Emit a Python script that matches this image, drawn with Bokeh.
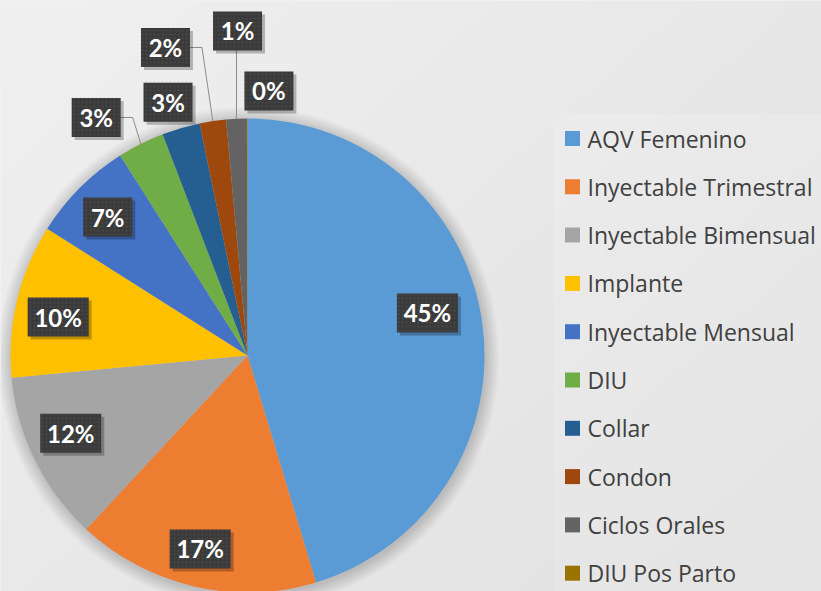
import numpy as np
from bokeh.plotting import figure
from bokeh.models import ColumnDataSource
from bokeh.core.properties import value
from bokeh.embed import file_html
from bokeh.resources import INLINE

# ---- data ----
categories = ["AQV Femenino", "Inyectable Trimestral", "Inyectable Bimensual", "Implante",
              "Inyectable Mensual", "DIU", "Collar", "Condon", "Ciclos Orales", "DIU Pos Parto"]
values = [45.4, 16.6, 11.6, 10.5, 7.0, 3.2, 2.6, 1.8, 1.4, 0.04]
colors = ["#5B9BD5", "#ED7D31", "#A5A5A5", "#FFC000", "#4472C4",
          "#70AD47", "#255E91", "#9E480E", "#636363", "#997300"]

# ---- label layout (radius factor, angle offset in degrees) ----
label_r = [0.78, 0.84, 0.815, 0.815, 0.83, 1.19, 1.12, 1.345, 1.37, 1.12]
label_dang = [-4.9, 0.7, 2.5, -2.0, -0.2, -5.7, -1.1, -6.5, 0.9, 4.7]

W, H = 821, 591
CX, CY_S, R = 247, 355, 237  # centre in screen coords
CY = H - CY_S

vals = np.array(values, dtype=float)
frac = vals / vals.sum()
cum = np.concatenate([[0], np.cumsum(frac)]) * 360.0
th1, th2 = cum[:-1], cum[1:]
mid = (th1 + th2) / 2
pct = ["%d%%" % int(np.floor(f * 100 + 0.5)) for f in frac]

p = figure(width=W, height=H, x_range=(0, W), y_range=(0, H), min_border=0,
           toolbar_location=None, output_backend="svg",
           x_axis_location=None, y_axis_location=None)
p.grid.visible = False
p.outline_line_color = None
p.background_fill_color = "#e8e8e8"
p.border_fill_color = "#e8e8e8"

# background gradient
gx = np.linspace(0, 1, W)[None, :]
gy = np.linspace(0, 1, H)[:, None]  # row 0 = bottom
t = 0.55 * gx + 0.45 * (1 - gy)
c = (240 - 15 * t).astype(np.uint8)
img = np.zeros((H, W), dtype=np.uint32)
view = img.view(dtype=np.uint8).reshape((H, W, 4))
view[:, :, 0] = c
view[:, :, 1] = c
view[:, :, 2] = c
view[:, :, 3] = 255
p.image_rgba(image=[img], x=0, y=0, dw=W, dh=H)

# legend panel
p.quad(left=553, right=W, bottom=0, top=H - 113, fill_color="#ffffff", fill_alpha=0.13, line_color=None)

# pie shadow
for k in range(14):
    p.circle(x=CX + 1, y=CY - 2, radius=R + 14 - k, fill_color="black", fill_alpha=0.012, line_color=None)

# slices
src = ColumnDataSource(dict(
    start=np.pi / 2 - np.radians(th1),
    end=np.pi / 2 - np.radians(th2),
    color=colors, cat=categories))
p.wedge(x=CX, y=CY, radius=R, start_angle="start", end_angle="end", direction="clock",
        fill_color="color", line_color=None, source=src)

# labels
lx, ly, bw, bh = [], [], [], []
leaders_x, leaders_y = [], []
for i in range(len(values)):
    a = np.radians(mid[i] + label_dang[i])
    r = label_r[i] * R
    x = CX + r * np.sin(a)
    ys = CY_S - r * np.cos(a)
    w = 12 * len(pct[i]) + 25
    h = 39
    lx.append(x); ly.append(H - ys); bw.append(w); bh.append(h)
    if label_r[i] > 1.15:
        am = np.radians(mid[i])
        axp = CX + R * np.sin(am)
        ayp = CY_S - R * np.cos(am)
        if axp > x + w / 2:
            xs_ = [x + w / 2, x + w / 2 + 12, axp]
            ys_ = [ys, ys, ayp]
        else:
            xs_ = [axp, axp]
            ys_ = [ys + h / 2, ayp]
        leaders_x.append(xs_)
        leaders_y.append([H - v for v in ys_])

p.multi_line(xs=leaders_x, ys=leaders_y, line_color="#8c8c8c", line_width=1)

lsrc = ColumnDataSource(dict(x=lx, y=ly, w=bw, h=bh, t=pct,
                             sx=[v + 3 for v in lx], sy=[v - 3 for v in ly]))
p.rect(x="sx", y="sy", width="w", height="h", source=lsrc, fill_color="black",
       fill_alpha=0.25, line_color=None)
p.rect(x="x", y="y", width="w", height="h", source=lsrc, fill_color="#3a3a3a",
       line_color=None, hatch_pattern="dot", hatch_color="#5a5a5a", hatch_scale=4, hatch_alpha=0.5)
p.text(x="x", y="y", text="t", source=lsrc, text_font=value("Lato"), text_font_style="bold",
       text_font_size="24px", text_color="white", text_align="center", text_baseline="middle")

# legend
rows_y = [H - (138 + i * 48.3) for i in range(len(categories))]
leg = ColumnDataSource(dict(x=[572] * len(categories), tx=[587] * len(categories),
                            y=rows_y, color=colors, cat=categories))
p.scatter(x="x", y="y", marker="square", size=15, fill_color="color", line_color=None, source=leg)
p.text(x="tx", y="y", text="cat", source=leg, text_font=value("Open Sans"), text_font_size="23px",
       text_color="#404040", text_align="left", text_baseline="middle")

open("out.html", "w").write(file_html(p, INLINE))
